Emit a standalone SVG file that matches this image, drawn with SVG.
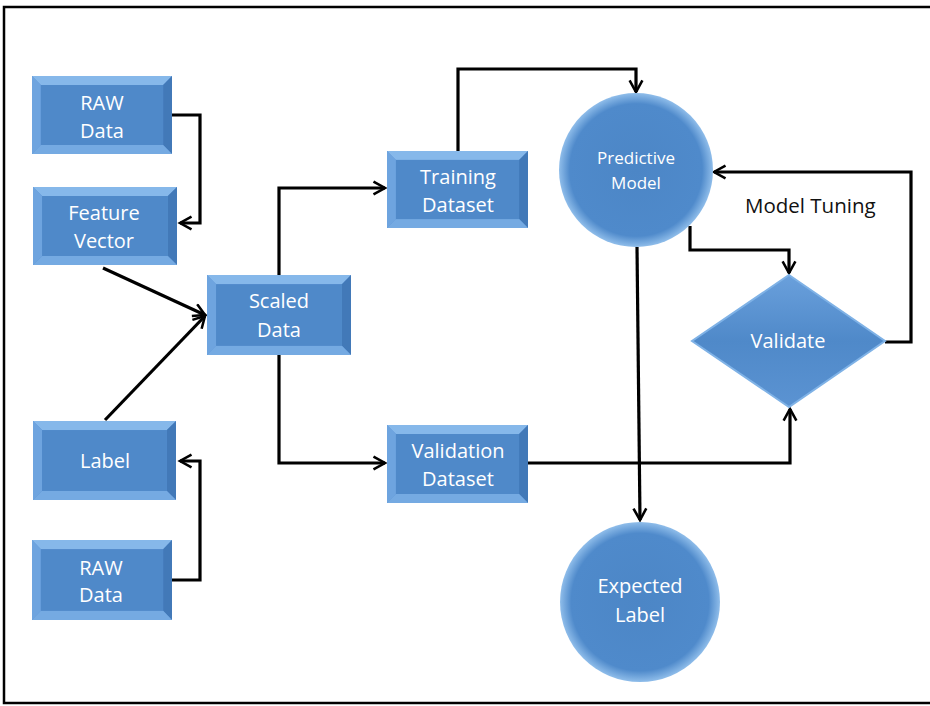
<svg xmlns="http://www.w3.org/2000/svg" xmlns:xlink="http://www.w3.org/1999/xlink" width="930" height="706" viewBox="0 0 930 706">
<style>
.lbl{font-family:"Open Sans","Liberation Sans",sans-serif;fill:#ffffff;text-anchor:middle;font-size:20px}
.sm{font-size:17px}
.blk{font-family:"Open Sans","Liberation Sans",sans-serif;fill:#111;font-size:20.5px}
.conn path{fill:none;stroke:#000;stroke-width:3.2;stroke-linejoin:miter}
</style>
<defs>
<marker id="ah" viewBox="0 0 12 12" refX="10" refY="6" markerWidth="4.8" markerHeight="4.8" orient="auto" markerUnits="strokeWidth">
<path d="M1,1 L10,6 L1,11" fill="none" stroke="#000" stroke-width="2"/>
</marker>
<symbol id="bevel" viewBox="0 0 142 78" preserveAspectRatio="none">
<rect x="0" y="0" width="142" height="78" fill="#5a93d3"/>
<polygon points="0,0 142,0 133,9 9,9" fill="#86b8ea"/>
<polygon points="0,0 9,9 9,69 0,78" fill="#6ea4df"/>
<polygon points="142,0 142,78 133,69 133,9" fill="#4279b8"/>
<polygon points="0,78 9,69 133,69 142,78" fill="#75aae2"/>
<rect x="9" y="9" width="124" height="60" fill="#4f89c9"/>
</symbol>
<radialGradient id="cg" cx="50%" cy="50%" r="50%">
<stop offset="0" stop-color="#4c86c6"/>
<stop offset="0.86" stop-color="#4f8acb"/>
<stop offset="1" stop-color="#8fbdea"/>
</radialGradient>
<linearGradient id="dg" x1="0" y1="0" x2="0" y2="1">
<stop offset="0" stop-color="#6aa0dc"/>
<stop offset="0.5" stop-color="#4f89c9"/>
<stop offset="1" stop-color="#5b93d2"/>
</linearGradient>
</defs>
<rect x="0" y="0" width="930" height="706" fill="#ffffff"/>
<rect x="4" y="7" width="940" height="696" fill="none" stroke="#000" stroke-width="2.5"/>

<g class="conn" id="connectors">
<path d="M172,115 H200 V223 H180" marker-end="url(#ah)"/>
<path d="M103,268 L205,315" marker-end="url(#ah)"/>
<path d="M105,420 L205,316" marker-end="url(#ah)"/>
<path d="M172,580 H200 V461 H180" marker-end="url(#ah)"/>
<path d="M279,275 V188 H385" marker-end="url(#ah)"/>
<path d="M279,355 V463 H385" marker-end="url(#ah)"/>
<path d="M458,151 V69 H636 V92" marker-end="url(#ah)"/>
<path d="M637,247 L640,520" marker-end="url(#ah)"/>
<path d="M690,226 V250 H789 V273" marker-end="url(#ah)"/>
<path d="M885,342 H911 V172 H714" marker-end="url(#ah)"/>
<path d="M528,463 H790 V409" marker-end="url(#ah)"/>
</g>

<g id="raw1"><use xlink:href="#bevel" x="32" y="76" width="140" height="78"/>
<text class="lbl" x="102" y="110">RAW</text><text class="lbl" x="102" y="138">Data</text></g>
<g id="feature"><use xlink:href="#bevel" x="33" y="187" width="144" height="78"/>
<text class="lbl" x="104" y="220">Feature</text><text class="lbl" x="104" y="248">Vector</text></g>
<g id="label"><use xlink:href="#bevel" x="33" y="421" width="143" height="79"/>
<text class="lbl" x="105" y="468">Label</text></g>
<g id="raw2"><use xlink:href="#bevel" x="32" y="540" width="140" height="80"/>
<text class="lbl" x="101" y="575">RAW</text><text class="lbl" x="101" y="602">Data</text></g>
<g id="scaled"><use xlink:href="#bevel" x="207" y="275" width="144" height="80"/>
<text class="lbl" x="279" y="308">Scaled</text><text class="lbl" x="279" y="337">Data</text></g>
<g id="training"><use xlink:href="#bevel" x="387" y="151" width="141" height="77"/>
<text class="lbl" x="458" y="184">Training</text><text class="lbl" x="458" y="212">Dataset</text></g>
<g id="validation"><use xlink:href="#bevel" x="387" y="425" width="141" height="78"/>
<text class="lbl" x="458" y="458">Validation</text><text class="lbl" x="458" y="486">Dataset</text></g>

<g id="predictive"><circle cx="636" cy="170" r="77" fill="url(#cg)"/>
<text class="lbl sm" x="636" y="164">Predictive</text><text class="lbl sm" x="636" y="189">Model</text></g>
<g id="validate"><polygon points="789,275 885,341 789,407 692,341" fill="url(#dg)" stroke="#7fb2e6" stroke-width="2"/>
<text class="lbl" x="788" y="348">Validate</text></g>
<g id="expected"><circle cx="640" cy="602" r="80" fill="url(#cg)"/>
<text class="lbl" x="640" y="593">Expected</text><text class="lbl" x="640" y="622">Label</text></g>

<text class="blk" x="745" y="213">Model Tuning</text>
</svg>
